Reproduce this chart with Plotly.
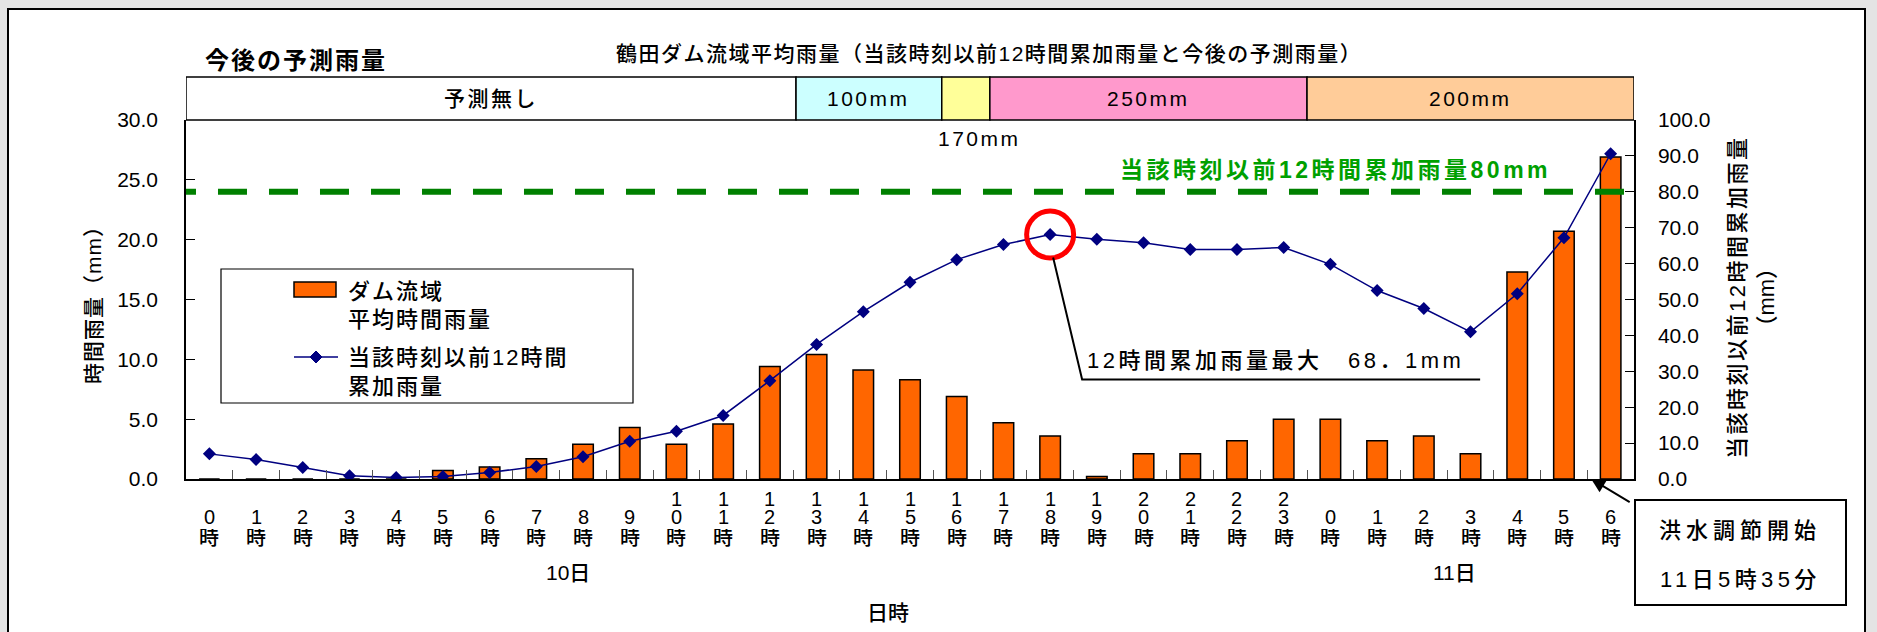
import plotly.graph_objects as go

# ---- data -------------------------------------------------------------
hours = list(range(24)) + list(range(7))            # 10日 0時 .. 11日 6時
rain_hourly = [0, 0, 0, 0, 0, 0.7, 1.0, 1.7, 2.9, 4.3, 2.9, 4.6, 9.4, 10.4,
               9.1, 8.3, 6.9, 4.7, 3.6, 0.2, 2.1, 2.1, 3.2, 5.0, 5.0, 3.2,
               3.6, 2.1, 17.3, 20.7, 26.9]
rain_12h = [7.0, 5.4, 3.2, 0.9, 0.4, 0.7, 1.8, 3.5, 6.2, 10.5, 13.3, 17.7,
            27.4, 37.5, 46.6, 54.8, 61.1, 65.3, 68.1, 66.8, 65.8, 63.9, 63.9,
            64.5, 59.8, 52.5, 47.5, 41.0, 51.6, 67.2, 90.6]
threshold_12h = 80
forecast_labels = ["予測無し", "100mm", "", "250mm", "200mm"]
forecast_colors = ["#FFFFFF", "#CCFFFF", "#FFFF99", "#FF99CC", "#FFCC99"]
left_ticks = [0, 5, 10, 15, 20, 25, 30]
right_ticks = [0, 10, 20, 30, 40, 50, 60, 70, 80, 90, 100]
flood_start = 29 + 35 / 60                           # 11日5時35分

# ---- page geometry ---------------------------------------------------
W, H = 1877, 632
L, R, T, B = 186, 1634, 120, 479
FONT = "Liberation Sans, Noto Sans CJK JP Medium, Noto Sans CJK JP"
BOLD_FONT = "Liberation Sans, Noto Sans CJK JP"


def px(x):
    return (x - L) / (R - L)


def py(y):
    return (B - y) / (B - T)


def sp(text, ls):
    return f'<span style="letter-spacing:{ls}px">{text}</span>'


x_idx = list(range(len(hours)))
fig = go.Figure()

fig.add_trace(go.Bar(
    x=x_idx, y=rain_hourly, width=0.44,
    marker=dict(color="#FF6600", line=dict(color="black", width=1.5)),
    yaxis="y", showlegend=False, hoverinfo="skip"))

fig.add_trace(go.Scatter(
    x=x_idx, y=rain_12h, yaxis="y2", mode="lines+markers",
    line=dict(color="#000080", width=1.5),
    marker=dict(symbol="diamond", size=10, color="#000080"),
    showlegend=False, hoverinfo="skip"))

shapes = []
annotations = []

# outer frame
shapes.append(dict(type="rect", xref="paper", yref="paper", layer="below",
                   x0=px(8), x1=px(1865), y0=py(660), y1=py(9),
                   fillcolor="white", line=dict(color="black", width=2)))

# forecast band above the plot
band_edges = [-0.5, 12.56, 15.68, 16.71, 23.5, 30.5]
for i, (lab, col) in enumerate(zip(forecast_labels, forecast_colors)):
    shapes.append(dict(type="rect", xref="x", yref="paper",
                       x0=band_edges[i], x1=band_edges[i + 1],
                       y0=1.0, y1=py(77), fillcolor=col,
                       line=dict(color="black", width=1.5)))
    if lab:
        annotations.append(dict(
            x=(band_edges[i] + band_edges[i + 1]) / 2, xref="x",
            y=py(98), yref="paper", text=sp(lab, 2.5), showarrow=False,
            font=dict(size=21, family=FONT, color="black")))
annotations.append(dict(x=px(979), xref="paper", y=py(138), yref="paper",
                        text=sp("170mm", 2.5), showarrow=False,
                        font=dict(size=21, family=FONT, color="black")))

# titles
annotations.append(dict(x=px(203), xref="paper", xanchor="left", y=py(60),
                        yref="paper", text="<b>" + sp("今後の予測雨量", 2) + "</b>",
                        showarrow=False,
                        font=dict(size=24, family=BOLD_FONT, color="black")))
annotations.append(dict(
    x=px(989), xref="paper", y=py(54), yref="paper", showarrow=False,
    text=sp("鶴田ダム流域平均雨量（当該時刻以前12時間累加雨量と今後の予測雨量）", 1.5),
    font=dict(size=21, family=FONT, color="black")))

# 80mm threshold line
shapes.append(dict(type="line", xref="x", yref="y2", x0=-0.907, x1=30.5,
                   y0=threshold_12h, y1=threshold_12h,
                   line=dict(color="#008000", width=6, dash="29px,22px")))
annotations.append(dict(
    x=px(1553), xref="paper", xanchor="right", y=py(170), yref="paper",
    text="<b>" + sp(f"当該時刻以前12時間累加雨量{threshold_12h}mm", 3.5) + "</b>",
    showarrow=False, font=dict(size=23, family=BOLD_FONT, color="#00A000")))

# maximum of the 12h accumulation on the 10th
day1 = range(24)
peak_i = max(day1, key=lambda i: rain_12h[i])
peak_v = rain_12h[peak_i]
shapes.append(dict(type="circle", xref="x", yref="y2", xsizemode="pixel",
                   ysizemode="pixel", xanchor=peak_i, yanchor=peak_v,
                   x0=-23.5, x1=23.5, y0=-23.5, y1=23.5,
                   line=dict(color="#FF0000", width=5)))
shapes.append(dict(type="path", xref="x", yref="y2", xsizemode="pixel",
                   ysizemode="pixel", xanchor=peak_i, yanchor=peak_v,
                   path="M 3,-23 L 32,-145 L 430,-145",
                   line=dict(color="black", width=2)))
annotations.append(dict(
    x=px(1085), xref="paper", xanchor="left", y=py(360), yref="paper",
    text=sp(f"12時間累加雨量最大　{str(peak_v).replace('.', '．')}mm", 3.5),
    showarrow=False, font=dict(size=22, family=FONT, color="black")))

# legend
shapes.append(dict(type="rect", xref="paper", yref="paper",
                   x0=px(221), x1=px(633), y0=py(403), y1=py(269),
                   fillcolor="white", line=dict(color="black", width=1.2)))
shapes.append(dict(type="rect", xref="paper", yref="paper",
                   x0=px(294), x1=px(336), y0=py(297), y1=py(282),
                   fillcolor="#FF6600", line=dict(color="black", width=1.5)))
shapes.append(dict(type="line", xref="paper", yref="paper",
                   x0=px(294), x1=px(338), y0=py(357), y1=py(357),
                   line=dict(color="#000080", width=1.5)))
d = 6
shapes.append(dict(type="path", xref="paper", yref="paper",
                   path=(f"M {px(316)},{py(357 - d)} L {px(316 + d)},{py(357)} "
                         f"L {px(316)},{py(357 + d)} L {px(316 - d)},{py(357)} Z"),
                   fillcolor="#000080", line=dict(color="#000080", width=1)))
for txt, yy in [("ダム流域", 291), ("平均時間雨量", 319),
                ("当該時刻以前12時間", 357), ("累加雨量", 386)]:
    annotations.append(dict(x=px(346), xref="paper", xanchor="left",
                            y=py(yy), yref="paper", text=sp(txt, 2),
                            showarrow=False,
                            font=dict(size=22, family=FONT, color="black")))

# category labels drawn vertically, one character per row
row_y = [538, 517, 499]
for i, h in enumerate(hours):
    chars = list(str(h)) + ["時"]
    for k, ch in enumerate(reversed(chars)):
        annotations.append(dict(x=i, xref="x", y=py(row_y[k]), yref="paper",
                                text=ch, showarrow=False, height=18,
                                font=dict(size=20, family=FONT, color="black")))
for txt, xx in [("10日", 568), ("11日", 1454)]:
    annotations.append(dict(x=px(xx), xref="paper", y=py(572), yref="paper",
                            text=txt, showarrow=False,
                            font=dict(size=21, family=FONT, color="black")))
annotations.append(dict(x=px(888), xref="paper", y=py(612), yref="paper",
                        text="日時", showarrow=False,
                        font=dict(size=21, family=FONT, color="black")))

# axis titles
annotations.append(dict(x=px(93), xref="paper", y=py(300), yref="paper",
                        text=sp("時間雨量（mm）", 1), textangle=-90,
                        showarrow=False,
                        font=dict(size=21, family=FONT, color="black")))
annotations.append(dict(x=px(1752), xref="paper", y=py(298), yref="paper",
                        text=sp("当該時刻以前12時間累加雨量", 2.5) + "<br>（mm）",
                        textangle=-90, showarrow=False,
                        font=dict(size=22, family=FONT, color="black")))

# flood control start
shapes.append(dict(type="rect", xref="paper", yref="paper",
                   x0=px(1635), x1=px(1846), y0=py(605), y1=py(500),
                   fillcolor="white", line=dict(color="black", width=2)))
for txt, yy, ls in [("洪水調節開始", 530, 5), ("11日5時35分", 579, 4.4)]:
    annotations.append(dict(x=px(1740), xref="paper", y=py(yy), yref="paper",
                            text=sp(txt, ls), showarrow=False,
                            font=dict(size=22, family=FONT, color="black")))

# texts are placed by their centre unless stated otherwise
for a in annotations:
    a.setdefault("xanchor", "center")
    a.setdefault("yanchor", "middle")

annotations.append(dict(x=flood_start, xref="x", y=0, yref="y", text="",
                        showarrow=True, ax=40, ay=24, arrowhead=2,
                        arrowsize=1.4, arrowwidth=2, arrowcolor="black"))

axis_common = dict(showgrid=False, zeroline=False, showline=True,
                   linecolor="black", linewidth=1.5, ticks="inside",
                   ticklen=9, tickcolor="black",
                   tickfont=dict(size=21, family="Liberation Sans", color="black"))

fig.update_layout(
    width=W, height=H, autosize=False,
    margin=dict(l=L, r=W - R, t=T, b=H - B, pad=0),
    paper_bgcolor="#e4e4e4", plot_bgcolor="white",
    shapes=shapes, annotations=annotations, bargap=0.56,
    xaxis=dict(range=[-0.5, 30.5], tickvals=[i + 0.5 for i in range(30)],
               showticklabels=False, showgrid=False, zeroline=False,
               showline=True, linecolor="black", linewidth=1.5,
               ticks="inside", ticklen=9, tickcolor="#555555"),
    yaxis=dict(range=[0, 30], tickvals=left_ticks,
               ticktext=[f"{v:.1f}" for v in left_ticks],
               ticklabelstandoff=22, **axis_common),
    yaxis2=dict(range=[0, 100], tickvals=right_ticks,
                ticktext=[f"{v:.1f}" for v in right_ticks],
                overlaying="y", side="right", ticklabelstandoff=18,
                **axis_common),
)

fig.write_html("out.html")
